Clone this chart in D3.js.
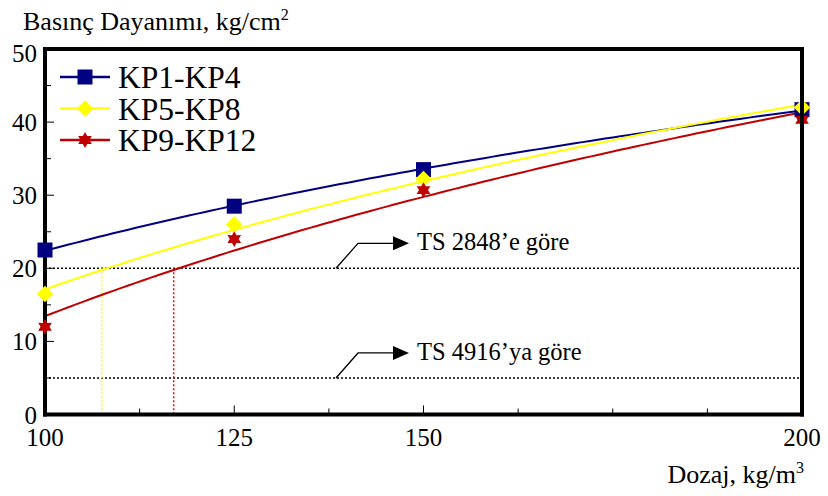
<!DOCTYPE html>
<html><head><meta charset="utf-8">
<script src="https://cdn.jsdelivr.net/npm/d3@7"></script>
<style>
body{margin:0;background:#fff}
#c text, #c tspan { font-family: "Liberation Serif" !important; }
</style>
</head><body><svg id="c" width="828" height="496"></svg>
<script>
// ---- data ----
const dozaj = [100, 125, 150, 200];
const seriesNames = ["KP1-KP4", "KP5-KP8", "KP9-KP12"];
const kp1_4 = [22.5, 28.5, 33.5, 41.7];
const kp5_8 = [16.5, 26.0, 32.2, 42.0];
const kp9_12 = [12.0, 24.0, 30.7, 40.3];
const yTicks = [0, 10, 20, 30, 40, 50];
const xTicks = [100, 125, 150, 200];
const limitValues = [20, 5];
const limitLabels = ["TS 2848\u2019e göre", "TS 4916\u2019ya göre"];
const dropDozaj = [null, 107.5, 117.0];   // where trend reaches 20

const colors = ["#000080", "#ffff00", "#c00000"];
const dropColors = [null, "#ffff00", "#ff0000"];
const symbols = ["square", "diamond", "star6"];
const series = [kp1_4, kp5_8, kp9_12].map((v, i) => ({name: seriesNames[i], values: v, color: colors[i], sym: symbols[i], drop: dropColors[i], dropX: dropDozaj[i]}));

const svg = d3.select("#c");
const x = d3.scaleLinear().domain([100, 200]).range([45, 802]);
const y = d3.scaleLinear().domain([0, 50]).range([414.5, 49]);

function txt(sel) { return sel.append("text").style("font-family", '"Liberation Serif"'); }

// logarithmic trend line (least squares on ln x)
function logFit(xs, ys) {
  const lx = xs.map(Math.log);
  const mx = d3.mean(lx), my = d3.mean(ys);
  const b = d3.sum(lx, (v, i) => (v - mx) * (ys[i] - my)) / d3.sum(lx, v => (v - mx) ** 2);
  const a = my - b * mx;
  return {a, b, f: t => a + b * Math.log(t)};
}
series.forEach(s => s.fit = logFit(dozaj, s.values));

function symPath(type, r) {
  if (type === "square") return `M${-r},${-r}H${r}V${r}H${-r}Z`;
  if (type === "diamond") return `M0,${-r * 1.1}L${r * 1.1},0L0,${r * 1.1}L${-r * 1.1},0Z`;
  const pts = [];
  for (let k = 0; k < 12; k++) {
    const ang = -Math.PI / 2 + k * Math.PI / 6;
    const rr = k % 2 === 0 ? r * 1.05 : r * 0.6;
    pts.push([rr * Math.cos(ang), rr * Math.sin(ang)]);
  }
  return "M" + pts.map(p => p[0].toFixed(2) + "," + p[1].toFixed(2)).join("L") + "Z";
}

// limit lines (dotted) + annotations
const gLim = svg.append("g");
limitValues.forEach((v, i) => {
  gLim.append("line").attr("x1", x(100)).attr("x2", x(200)).attr("y1", y(v)).attr("y2", y(v))
    .attr("stroke", "#000").attr("stroke-width", 1.4).attr("stroke-dasharray", "2,2");
  const yy = y(v);
  const ax0 = 336, ay = yy - 25;
  gLim.append("path").attr("d", `M${ax0},${yy}L${ax0 + 22},${ay}H${ax0 + 58}`)
    .attr("fill", "none").attr("stroke", "#000").attr("stroke-width", 1.3);
  gLim.append("path").attr("d", `M${ax0 + 57},${ay - 7}L${ax0 + 73},${ay}L${ax0 + 57},${ay + 7}Z`).attr("fill", "#000");
  txt(gLim).attr("x", ax0 + 81).attr("y", ay + 7).attr("font-size", 24.5).text(limitLabels[i]);
});

// drop lines where trend reaches 20
series.forEach(s => {
  if (!s.drop) return;
  svg.append("line").attr("x1", x(s.dropX)).attr("x2", x(s.dropX)).attr("y1", y(limitValues[0])).attr("y2", y(0))
    .attr("stroke", s.drop).attr("stroke-width", 1.5).attr("stroke-dasharray", "2,2");
});

// trend curves
series.forEach(s => {
  const xs = d3.range(100, 200.01, 1);
  svg.append("path").datum(xs)
    .attr("d", d3.line().x(d => x(d)).y(d => y(s.fit.f(d))))
    .attr("fill", "none").attr("stroke", s.color).attr("stroke-width", 2);
});

// left and bottom axes
const gAx = svg.append("g");
gAx.append("line").attr("x1", x(100)).attr("x2", x(100)).attr("y1", y(50) - 2).attr("y2", y(0) + 2).attr("stroke", "#000").attr("stroke-width", 4);
gAx.append("line").attr("x1", x(100) - 2).attr("x2", x(200) + 2).attr("y1", y(0)).attr("y2", y(0)).attr("stroke", "#000").attr("stroke-width", 4);
d3.range(0, 50.01, 5).forEach(v => {
  const major = v % 10 === 0;
  gAx.append("line").attr("x1", x(100)).attr("x2", x(100) + (major ? 9 : 6)).attr("y1", y(v)).attr("y2", y(v)).attr("stroke", "#000").attr("stroke-width", 1);
});
d3.range(100, 200.01, 12.5).forEach(v => {
  const major = xTicks.includes(v);
  gAx.append("line").attr("x1", x(v)).attr("x2", x(v)).attr("y1", y(0)).attr("y2", y(0) - (major ? 9 : 6)).attr("stroke", "#000").attr("stroke-width", 1);
});

// markers
series.forEach(s => {
  svg.append("g").selectAll("path").data(dozaj).join("path")
    .attr("transform", (d, i) => `translate(${x(d)},${y(s.values[i])})`)
    .attr("d", symPath(s.sym, 7.5)).attr("fill", s.color);
});

// top & right frame
svg.append("line").attr("x1", x(100) - 2).attr("x2", x(200) + 2).attr("y1", y(50)).attr("y2", y(50)).attr("stroke", "#000").attr("stroke-width", 4);
svg.append("line").attr("x1", x(200)).attr("x2", x(200)).attr("y1", y(50) - 2).attr("y2", y(0) + 2).attr("stroke", "#000").attr("stroke-width", 4);

// tick labels
yTicks.forEach(v => {
  const off = v === 0 ? 1 : v === 50 ? 4 : 0;
  txt(svg).attr("x", 37).attr("y", y(v) + off).attr("dy", "0.35em").attr("text-anchor", "end").attr("font-size", 25).text(v);
});
xTicks.forEach(v => {
  txt(svg).attr("x", x(v)).attr("y", 446).attr("text-anchor", "middle").attr("font-size", 25).text(v);
});

// axis titles
const t1 = txt(svg).attr("x", 23).attr("y", 30).attr("font-size", 26);
t1.append("tspan").text("Basınç Dayanımı, kg/cm");
t1.append("tspan").attr("font-size", 16).attr("dy", -10).text("2");
const t2 = txt(svg).attr("x", 804).attr("y", 483).attr("text-anchor", "end").attr("font-size", 26);
t2.append("tspan").text("Dozaj, kg/m");
t2.append("tspan").attr("font-size", 16).attr("dy", -10).text("3");

// legend
const leg = svg.append("g");
series.forEach((s, i) => {
  const ly = 77 + i * 31.5;
  leg.append("line").attr("x1", 60).attr("x2", 110).attr("y1", ly).attr("y2", ly).attr("stroke", s.color).attr("stroke-width", 2.5);
  leg.append("path").attr("transform", `translate(85,${ly})`).attr("d", symPath(s.sym, 7.5)).attr("fill", s.color);
  txt(leg).attr("x", 118).attr("y", ly).attr("dy", "0.35em").attr("font-size", 31.5).text(s.name);
});
</script></body></html>
